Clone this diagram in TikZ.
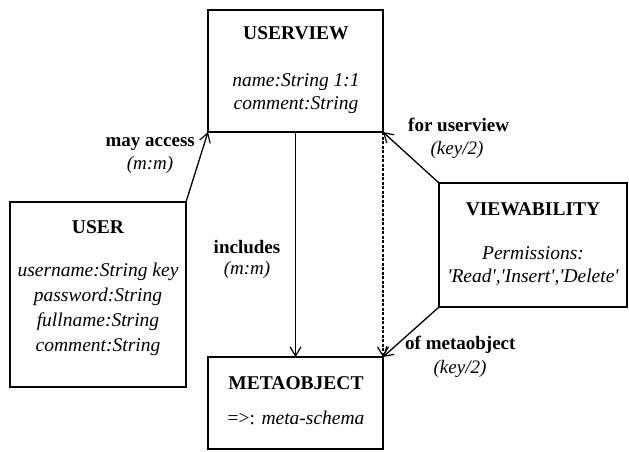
\documentclass[tikz,border=0pt]{standalone}
\usepackage{fontspec}
\setmainfont{Liberation Serif}
\usetikzlibrary{arrows.meta}
\begin{document}
\begin{tikzpicture}[x=1pt,y=-1pt,
  entity/.style={draw, line width=1.6pt, inner sep=0pt, outer sep=0pt},
  title/.style={font=\fontsize{19.5}{22}\selectfont\bfseries, anchor=mid, inner sep=0pt},
  attr/.style={font=\fontsize{19.5}{22}\selectfont\itshape, anchor=mid, inner sep=0pt},
  rel/.style={font=\fontsize{19}{22}\selectfont\bfseries, anchor=mid, inner sep=0pt},
  card/.style={font=\fontsize{19}{22}\selectfont\itshape, anchor=mid, inner sep=0pt},
  link/.style={line width=1.3pt, -{Straight Barb[length=9pt,width=11pt,line width=1.2pt]}}]
\useasboundingbox (0,0) rectangle (629,451);

% entity boxes
\node[entity, minimum width=175pt, minimum height=122pt] (uv) at (295.5,71) {};
\node[entity, minimum width=176pt, minimum height=185pt] (user) at (98,294.5) {};
\node[entity, minimum width=188pt, minimum height=124pt] (va) at (533,245) {};
\node[entity, minimum width=175pt, minimum height=92pt] (mo) at (295.5,403) {};

% USERVIEW
\node[title] (uvt) at (296,37) {USERVIEW};
\node[attr] (uv1) at (296,84) {name:String 1:1};
\node[attr] (uv2) at (296,107) {comment:String};

% USER
\node[title] (usert) at (98,231) {USER};
\node[attr] (us1) at (98,274) {username:String key};
\node[attr] (us2) at (98,299) {password:String};
\node[attr] (us3) at (98,324) {fullname:String};
\node[attr] (us4) at (98,349) {comment:String};

% VIEWABILITY
\node[title] (vat) at (533,213) {VIEWABILITY};
\node[attr] (va1) at (533,257) {Permissions:};
\node[attr] (va2) at (533,280) {\textquotesingle Read\textquotesingle,\textquotesingle Insert\textquotesingle,\textquotesingle Delete\textquotesingle};

% METAOBJECT
\node[title] (mot) at (296,387) {METAOBJECT};
\node[inner sep=0pt, anchor=mid, font=\fontsize{19.5}{22}\selectfont] (mo1) at (296,422) {=>: \textit{meta-schema}};

% relationships
\draw[link] (user.north east) -- (uv.south west);
\draw[link] (uv.south) -- (mo.north);
\draw[link, dash pattern=on 3pt off 1.5pt] (uv.south east) -- (mo.north east);
\draw[link] (va.north west) -- (uv.south east);
\draw[link] (va.south west) -- (mo.north east);

% relationship labels
\node[rel, anchor=mid east] (l1) at (195,144) {may access};
\node[card] (l1c) at (150,167) {(m:m)};
\node[rel] (l2) at (247,251) {includes};
\node[card] (l2c) at (247,272) {(m:m)};
\node[rel, anchor=mid west] (l3) at (408,129) {for userview};
\node[card] (l3c) at (457,152) {(key/2)};
\node[rel, anchor=mid west] (l4) at (405,347) {of metaobject};
\node[card] (l4c) at (460,371) {(key/2)};
\end{tikzpicture}
\end{document}
